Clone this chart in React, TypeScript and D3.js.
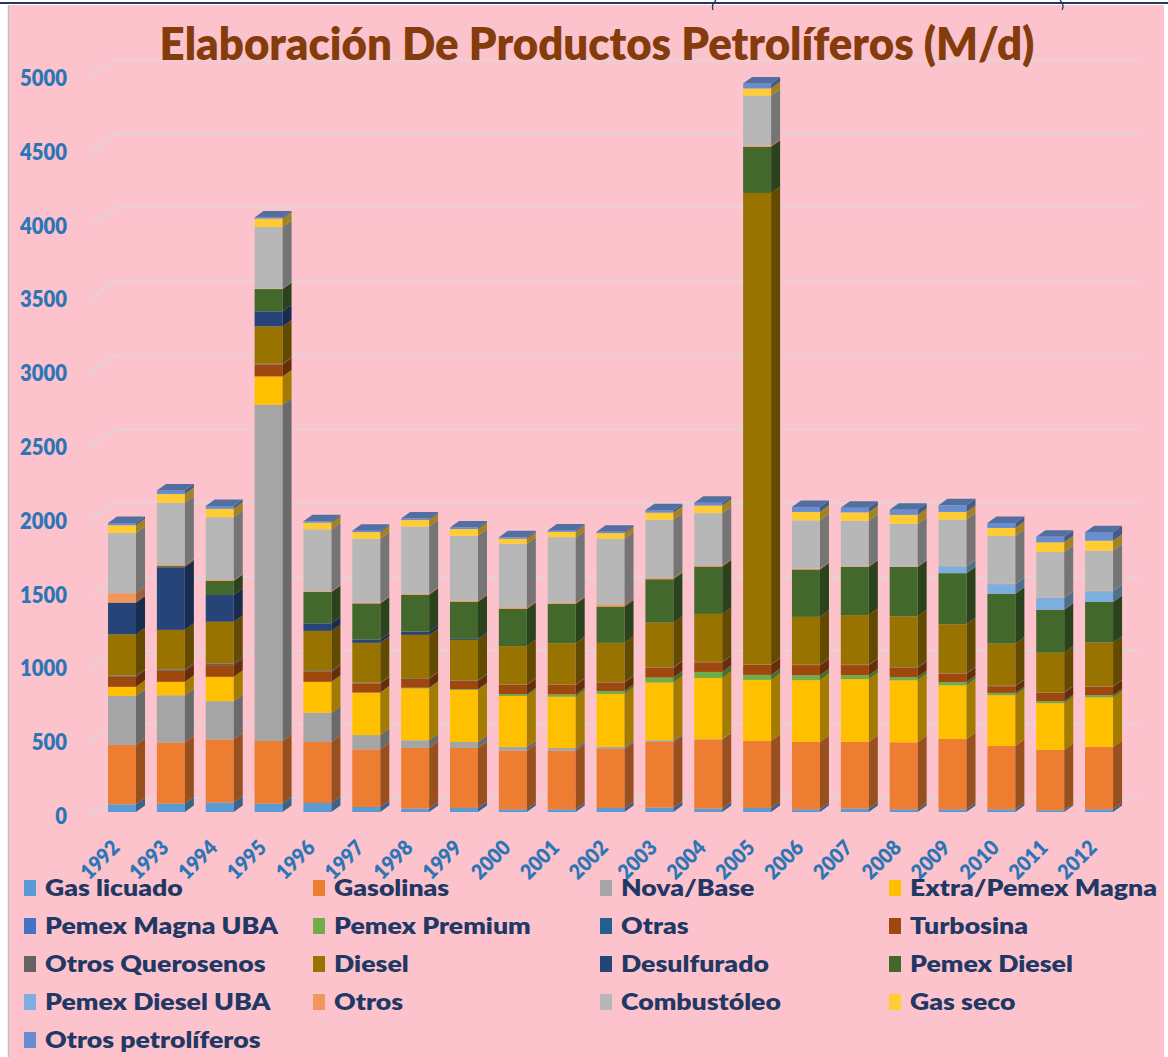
import React, { useLayoutEffect, useRef, useState } from 'react';
import * as d3 from 'd3';

const years = ['1992','1993','1994','1995','1996','1997','1998','1999','2000','2001','2002','2003','2004','2005','2006','2007','2008','2009','2010','2011','2012'];

const seriesNames = ['Gas licuado','Gasolinas','Nova/Base','Extra/Pemex Magna','Pemex Magna UBA','Pemex Premium','Otras','Turbosina','Otros Querosenos','Diesel','Desulfurado','Pemex Diesel','Pemex Diesel UBA','Otros','Combustóleo','Gas seco','Otros petrolíferos'];
const seriesColors = ['#5B9BD5','#ED7D31','#A5A5A5','#FFC000','#4472C4','#70AD47','#255E91','#9E480E','#636363','#997300','#264478','#43682B','#7CAFDD','#F1975A','#B7B7B7','#FFCD33','#698ED0'];

const gasLicuado      = [52,57,64,57,61,34,23,27,18,18,27,30,23,27,18,23,18,18,18,12,18];
const gasolinas       = [402,414,427,424,414,390,411,407,397,397,400,445,468,455,457,452,454,477,429,408,423];
const novaBase        = [333,320,260,2278,198,97,52,41,26,19,14,11,3,0,0,0,0,0,0,0,0];
const extraMagna      = [61,91,165,192,209,286,351,352,345,347,359,391,414,413,418,425,420,363,344,317,335];
const magnaUBA        = [0,0,0,0,0,0,0,0,0,0,0,0,0,0,0,0,0,0,0,0,0];
const pemexPremium    = [0,0,0,0,0,3,5,5,12,16,20,34,41,34,34,27,22,22,16,14,15];
const otras           = [0,0,0,0,0,0,0,0,0,0,0,0,0,0,0,0,0,0,0,0,0];
const turbosina       = [68,74,79,80,68,61,60,58,63,64,57,66,65,68,68,68,64,57,45,57,57];
const otrosQuerosenos = [8,10,12,6,6,5,5,3,3,3,3,3,3,3,3,3,3,3,3,3,3];
const diesel          = [280,268,282,253,271,270,293,273,260,279,266,303,325,3194,324,336,345,332,286,268,297];
const desulfurado     = [215,424,181,102,51,23,22,7,0,0,0,0,0,0,0,0,0,0,0,0,0];
const pemexDiesel     = [0,8,95,151,213,244,250,252,252,267,246,294,321,313,321,327,334,346,338,292,275];
const pemexDieselUBA  = [0,0,0,0,0,0,0,0,0,0,0,0,0,0,0,0,0,47,65,81,73];
const otros           = [63,8,7,3,4,5,6,8,10,8,15,10,8,8,6,4,4,2,2,2,2];
const combustoleo     = [408,420,425,418,420,433,456,438,431,444,444,393,354,339,327,308,288,314,324,307,273];
const gasSeco         = [53,60,57,56,45,45,44,46,34,36,38,48,51,48,57,57,61,52,54,66,67];
const otrosPetroliferos = [15,25,20,8,10,10,10,10,10,10,10,17,20,34,33,32,34,45,34,37,58];

const seriesValues = [gasLicuado,gasolinas,novaBase,extraMagna,magnaUBA,pemexPremium,otras,turbosina,otrosQuerosenos,diesel,desulfurado,pemexDiesel,pemexDieselUBA,otros,combustoleo,gasSeco,otrosPetroliferos];

const yTicks = [0,500,1000,1500,2000,2500,3000,3500,4000,4500,5000];

const W = 1168, H = 1057;
const FONT = 'Lato, "Open Sans", sans-serif';

function shade(c: string, k: number) {
  const r = d3.rgb(c);
  return d3.rgb(r.r * k, r.g * k, r.b * k).formatHex();
}

export default function App() {
  const rows = years.map((yr, i) => {
    const o: any = { year: yr };
    seriesNames.forEach((n, j) => { o[n] = seriesValues[j][i]; });
    return o;
  });
  const stacked = d3.stack<any>().keys(seriesNames)(rows);

  const x = d3.scaleBand<string>().domain(years).range([83.6, 1137.5]).paddingInner(0.427).paddingOuter(0.5);
  const y = d3.scaleLinear().domain([0, 5000]).range([812, 74]);
  const DX = 9, DY = 6.5;
  const gridFrontX = 90, gridBackX = 115, gridRight = 1140;

  const titleRef = useRef<SVGTextElement>(null);
  const legRef = useRef<SVGTextElement>(null);
  const yRef = useRef<SVGTextElement>(null);
  const xRef = useRef<SVGTextElement>(null);
  const [sc, setSc] = useState({ t: 1, l: 1, y: 1, x: 1 });
  useLayoutEffect(() => {
    const m = (r: any, target: number) => {
      const el = r.current as SVGTextElement | null;
      if (!el) return 1;
      const w = el.getComputedTextLength();
      return w > 0 ? target / w : 1;
    };
    setSc({ t: m(titleRef, 875), l: m(legRef, 247), y: m(yRef, 47), x: m(xRef, 45) });
  }, []);

  const legendCols = [45, 334, 621, 910];
  const legendRow0 = 888, legendStep = 38;

  return (
    <svg width={W} height={H} style={{ position: 'absolute', left: 0, top: 0 }} xmlns="http://www.w3.org/2000/svg">
      <rect x={0} y={0} width={W} height={H} fill="#ffffff" />
      <rect x={9} y={5} width={1155} height={H - 5} fill="#FDC3CC" />
      <line x1={8.5} y1={5} x2={8.5} y2={H} stroke="#BFBFBF" strokeWidth={1.5} />
      <line x1={0} y1={3} x2={W} y2={3} stroke="#1F3864" strokeWidth={2} />
      <path d="M716,0 Q711,5 713,10" fill="none" stroke="#1F3864" strokeWidth={1.2} />
      <path d="M1060,0 Q1065,5 1062,10" fill="none" stroke="#1F3864" strokeWidth={1.2} />

      {yTicks.map((t) => {
        const yb = y(t) - 14, yf = y(t) + 4;
        return (
          <g key={'g' + t}>
            <line x1={gridFrontX} y1={yf} x2={gridBackX} y2={yb} stroke="#D9D9D9" strokeWidth={1.5} />
            <line x1={gridBackX} y1={yb} x2={gridRight} y2={yb} stroke="#D9D9D9" strokeWidth={1.5} />
          </g>
        );
      })}

      {years.map((yr, i) => {
        const x0 = x(yr) as number;
        const bw = x.bandwidth();
        const segs: any[] = [];
        let topIdx = 0;
        stacked.forEach((s, j) => {
          const d = s[i];
          if (d[1] - d[0] > 0) topIdx = j;
        });
        stacked.forEach((s, j) => {
          const d = s[i];
          if (d[1] - d[0] <= 0) return;
          const y0 = y(d[0]), y1 = y(d[1]);
          const c = seriesColors[j];
          segs.push(
            <g key={j}>
              <rect x={x0} y={y1} width={bw} height={y0 - y1} fill={c} />
              <polygon points={`${x0 + bw},${y0} ${x0 + bw + DX},${y0 - DY} ${x0 + bw + DX},${y1 - DY} ${x0 + bw},${y1}`} fill={shade(c, 0.64)} />
            </g>
          );
        });
        const yt = y(stacked[topIdx][i][1]);
        const tc = seriesColors[topIdx];
        return (
          <g key={yr}>
            {segs}
            <polygon points={`${x0},${yt} ${x0 + DX},${yt - DY} ${x0 + bw + DX},${yt - DY} ${x0 + bw},${yt}`} fill={shade(tc, 0.78)} />
          </g>
        );
      })}

      {yTicks.map((t, k) => (
        <g key={'y' + t} transform={`translate(67,${y(t) + 4 + 8}) scale(${sc.y},1)`}>
          <text ref={k === 10 ? yRef : undefined} x={0} y={0} textAnchor="end" fontFamily={FONT} fontWeight={800} fontSize={22.5} fill="#2E75B6">{t}</text>
        </g>
      ))}

      {years.map((yr, i) => (
        <g key={'x' + yr} transform={`translate(${(x(yr) as number) + x.bandwidth() / 2 - 1},849) rotate(-45) scale(${sc.x},1)`}>
          <text ref={i === 0 ? xRef : undefined} x={0} y={0} textAnchor="end" fontFamily={FONT} fontWeight={800} fontSize={21} fill="#2E75B6">{yr}</text>
        </g>
      ))}

      {seriesNames.map((n, j) => {
        const col = j % 4, row = Math.floor(j / 4);
        const tx = legendCols[col];
        const cy = legendRow0 + row * legendStep;
        return (
          <g key={'l' + n}>
            <rect x={tx - 21} y={cy - 8} width={12} height={16} fill={seriesColors[j]} />
            <g transform={`translate(${tx},${cy + 8}) scale(${sc.l},1)`}>
              <text ref={j === 3 ? legRef : undefined} x={0} y={0} fontFamily={FONT} fontWeight={800} fontSize={23} fill="#1F3864">{n}</text>
            </g>
          </g>
        );
      })}

      <g transform={`translate(597,60) scale(${sc.t},1)`}>
        <text ref={titleRef} x={0} y={0} textAnchor="middle" fontFamily={FONT} fontWeight={800} fontSize={46} fill="#843C0C">Elaboración De Productos Petrolíferos (M/d)</text>
      </g>
    </svg>
  );
}
